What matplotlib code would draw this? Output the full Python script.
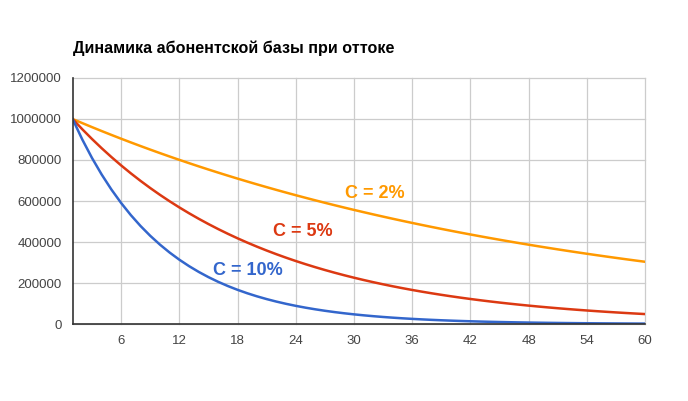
import matplotlib.pyplot as plt

plt.rcParams['font.family'] = ['Liberation Sans', 'DejaVu Sans']

months = list(range(1, 61))

churn_2 = [1000000, 980000, 960400, 941192, 922368, 903921, 885842, 868126, 850763, 833748,
           817073, 800731, 784717, 769022, 753642, 738569, 723797, 709321, 695135, 681233,
           667608, 654256, 641171, 628347, 615780, 603465, 591395, 579568, 567976, 556617,
           545484, 534575, 523883, 513405, 503137, 493075, 483213, 473549, 464078, 454796,
           445700, 436786, 428050, 419489, 411100, 402878, 394820, 386923, 379185, 371601,
           364169, 356886, 349748, 342753, 335898, 329180, 322596, 316144, 309821, 303625]

churn_5 = [1000000, 950000, 902500, 857375, 814506, 773781, 735092, 698337, 663420, 630249,
           598737, 568800, 540360, 513342, 487675, 463291, 440127, 418120, 397214, 377354,
           358486, 340562, 323534, 307357, 291989, 277390, 263520, 250344, 237827, 225936,
           214639, 203907, 193711, 184026, 174825, 166083, 157779, 149890, 142396, 135276,
           128512, 122087, 115982, 110183, 104674, 99440, 94468, 89745, 85258, 80995,
           76945, 73098, 69443, 65971, 62672, 59539, 56562, 53734, 51047, 48495]

churn_10 = [1000000, 900000, 810000, 729000, 656100, 590490, 531441, 478297, 430467, 387420,
            348678, 313811, 282430, 254187, 228768, 205891, 185302, 166772, 150095, 135085,
            121577, 109419, 98477, 88629, 79766, 71790, 64611, 58150, 52335, 47101,
            42391, 38152, 34337, 30903, 27813, 25032, 22528, 20276, 18248, 16423,
            14781, 13303, 11973, 10775, 9698, 8728, 7855, 7070, 6363, 5726,
            5154, 4638, 4175, 3757, 3381, 3043, 2739, 2465, 2219, 1997]

x_ticks = [6, 12, 18, 24, 30, 36, 42, 48, 54, 60]
y_ticks = [0, 200000, 400000, 600000, 800000, 1000000, 1200000]

fig = plt.figure(figsize=(6.88, 4.01), dpi=100)
ax = fig.add_axes([0.1055, 0.192, 0.832, 0.6135])

ax.plot(months, churn_2, color='#ff9900', lw=1.8)
ax.plot(months, churn_5, color='#dc3912', lw=1.8)
ax.plot(months, churn_10, color='#3366cc', lw=1.8)

ax.set_xlim(1, 60)
ax.set_ylim(0, 1200000)
ax.set_xticks(x_ticks)
ax.set_yticks(y_ticks)
ax.set_xticklabels([str(t) for t in x_ticks])
ax.set_yticklabels([str(t) for t in y_ticks])
ax.tick_params(length=0, labelsize=9.5, colors='#444444', pad=8)
ax.grid(True, color='#cccccc', lw=0.9)
for g in ax.xaxis.get_gridlines() + ax.yaxis.get_gridlines():
    g.set_clip_on(False)
ax.set_axisbelow(True)
for s in ['top', 'right']:
    ax.spines[s].set_visible(False)
for s in ['left', 'bottom']:
    ax.spines[s].set_color('#333333')
    ax.spines[s].set_linewidth(1.2)

ax.text(32.1, 639000, 'C = 2%', color='#ff9900', fontsize=13, fontweight='bold', ha='center', va='center')
ax.text(24.7, 449000, 'C = 5%', color='#dc3912', fontsize=13, fontweight='bold', ha='center', va='center')
ax.text(19.1, 263000, 'C = 10%', color='#3366cc', fontsize=13, fontweight='bold', ha='center', va='center')

fig.text(73 / 688, 1 - 48 / 401, 'Динамика абонентской базы при оттоке',
         fontsize=11.6, fontweight='bold', ha='left', va='center')

fig.savefig('out.png', dpi=100)
